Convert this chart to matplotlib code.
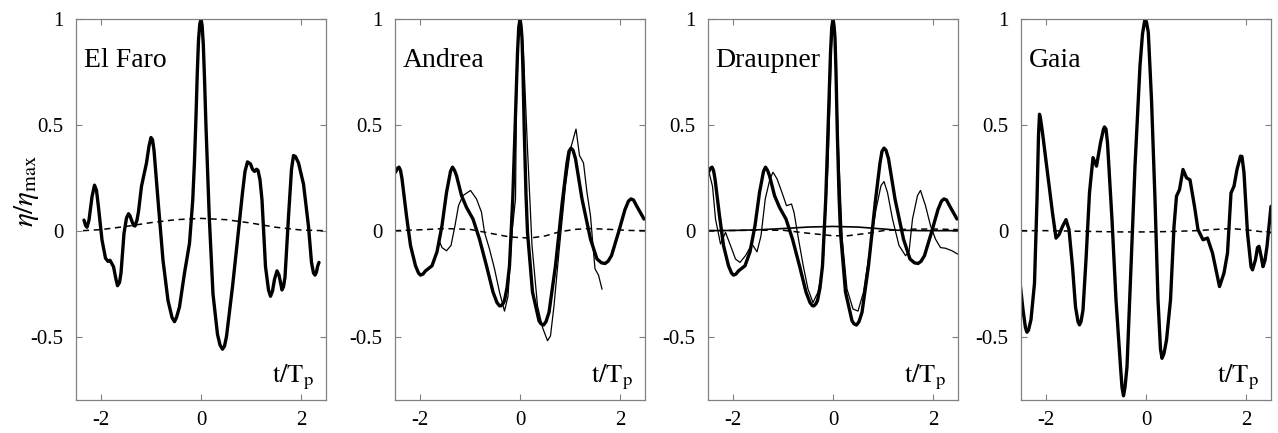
import matplotlib
matplotlib.use('Agg')
import matplotlib.pyplot as plt

plt.rcParams['font.family'] = ['Liberation Serif', 'DejaVu Serif']
plt.rcParams['mathtext.fontset'] = 'stix'
plt.rcParams['axes.unicode_minus'] = False

# --- El Faro ---
faro_t = [-2.34, -2.31, -2.28, -2.24, -2.18, -2.13, -2.09, -2.05, -1.98, -1.91, -1.86, -1.82, -1.75,
          -1.70, -1.67, -1.63, -1.60, -1.54, -1.49, -1.45, -1.42, -1.39, -1.35, -1.32, -1.28, -1.25,
          -1.19, -1.09, -1.04, -1.00, -0.97, -0.94, -0.86, -0.76, -0.66, -0.58, -0.53, -0.49, -0.43,
          -0.33, -0.23, -0.165, -0.13, -0.10, -0.075, -0.05, -0.025, 0.0, 0.022, 0.046, 0.07, 0.10,
          0.165, 0.24, 0.33, 0.38, 0.43, 0.47, 0.51, 0.63, 0.73, 0.83, 0.88, 0.93, 0.99, 1.03, 1.07,
          1.11, 1.14, 1.18, 1.22, 1.29, 1.35, 1.39, 1.43, 1.47, 1.52, 1.56, 1.62, 1.65, 1.68, 1.75,
          1.81, 1.85, 1.89, 1.95, 2.05, 2.15, 2.21, 2.25, 2.28, 2.31, 2.33, 2.36]
faro_y = [0.05, 0.025, 0.016, 0.05, 0.16, 0.215, 0.19, 0.11, -0.044, -0.13, -0.145, -0.14, -0.17,
          -0.23, -0.26, -0.245, -0.20, -0.013, 0.06, 0.08, 0.07, 0.05, 0.025, 0.022, 0.05, 0.09,
          0.21, 0.32, 0.40, 0.44, 0.43, 0.38, 0.145, -0.14, -0.33, -0.41, -0.43, -0.41, -0.36,
          -0.20, -0.06, 0.145, 0.33, 0.54, 0.74, 0.90, 0.975, 1.0, 0.97, 0.88, 0.72, 0.49,
          0.066, -0.30, -0.49, -0.54, -0.56, -0.545, -0.50, -0.265, -0.044, 0.18, 0.28, 0.325, 0.315, 0.29, 0.28,
          0.29, 0.285, 0.24, 0.145, -0.17, -0.28, -0.31, -0.285, -0.23, -0.19, -0.21, -0.28, -0.265, -0.22, 0.066,
          0.29, 0.355, 0.35, 0.32, 0.22, 0.02, -0.15, -0.20, -0.21, -0.195, -0.17, -0.15]
faro_dash_t = [-2.36, -2.0, -1.5, -1.0, -0.5, 0.0, 0.5, 1.0, 1.5, 2.0, 2.44]
faro_dash_y = [0.0, 0.005, 0.02, 0.038, 0.052, 0.058, 0.052, 0.036, 0.016, 0.003, 0.0]

# --- Andrea / Draupner model wave (same thick curve in both panels) ---
model_t = [-2.49, -2.45, -2.42, -2.39, -2.36, -2.27, -2.19, -2.09, -2.03, -1.99, -1.94, -1.89, -1.76,
           -1.66, -1.56, -1.47, -1.39, -1.35, -1.31, -1.27, -1.17, -1.07, -0.94, -0.81, -0.67, -0.54,
           -0.46, -0.41, -0.38, -0.34, -0.31, -0.26, -0.21, -0.145, -0.11, -0.08, -0.05, -0.025, 0.0,
           0.02, 0.04, 0.06, 0.086, 0.12, 0.15, 0.25, 0.38, 0.42, 0.47, 0.52, 0.58, 0.71, 0.845, 0.94,
           0.98, 1.02, 1.06, 1.11, 1.24, 1.41, 1.54, 1.63, 1.70, 1.76, 1.83, 1.97, 2.10, 2.17, 2.22,
           2.27, 2.33, 2.48]
model_y = [0.276, 0.295, 0.30, 0.285, 0.245, 0.07, -0.07, -0.166, -0.2, -0.21, -0.205, -0.19, -0.166,
           -0.10, 0.024, 0.18, 0.28, 0.30, 0.285, 0.26, 0.166, 0.11, 0.055, -0.04, -0.166, -0.29,
           -0.34, -0.355, -0.355, -0.345, -0.33, -0.27, -0.166, 0.15, 0.40, 0.62, 0.84, 0.96, 1.0,
           0.97, 0.91, 0.75, 0.465, 0.17, -0.008, -0.29, -0.426, -0.44, -0.446, -0.43, -0.386, -0.166, 0.134, 0.32,
           0.375, 0.39, 0.38, 0.34, 0.15, -0.04, -0.134, -0.152, -0.155, -0.145, -0.118, -0.008, 0.10, 0.14, 0.15,
           0.145, 0.118, 0.055]

andrea_t = [-1.63, -1.56, -1.47, -1.38, -1.30, -1.23, -1.14, -0.99, -0.87, -0.77, -0.71, -0.61, -0.51,
            -0.41, -0.31, -0.24, -0.16, -0.09, -0.07, -0.026, 0.013, 0.066, 0.15, 0.24, 0.35, 0.45, 0.55,
            0.61, 0.68, 0.78, 0.91, 1.01, 1.12, 1.19, 1.27, 1.34, 1.41, 1.47, 1.50, 1.57, 1.64]
andrea_y = [-0.04, -0.08, -0.095, -0.07, 0.024, 0.118, 0.166, 0.19, 0.15, 0.087, -0.008, -0.087, -0.18,
            -0.29, -0.38, -0.31, -0.008, 0.15, 0.62, 0.97, 0.985, 0.86, 0.386, -0.07, -0.355, -0.457, -0.52,
            -0.497, -0.355, -0.10, 0.213, 0.386, 0.48, 0.355, 0.32, 0.18, 0.07, -0.10, -0.18, -0.21, -0.276]
andrea_dash_t = [-2.5, -2.0, -1.5, -1.0, -0.6, -0.2, 0.2, 0.5, 0.8, 1.1, 1.4, 1.8, 2.2, 2.5]
andrea_dash_y = [0.0, 0.004, 0.01, 0.006, -0.012, -0.03, -0.035, -0.025, -0.005, 0.006, 0.01, 0.006, 0.001, 0.0]

draupner_t = [-2.48, -2.41, -2.35, -2.25, -2.15, -2.05, -1.95, -1.86, -1.75, -1.62, -1.52, -1.44, -1.355,
              -1.26, -1.20, -1.12, -1.02, -0.93, -0.83, -0.78, -0.69, -0.595, -0.50, -0.40, -0.30, -0.20,
              -0.10, -0.06, -0.033, 0.0, 0.025, 0.046, 0.11, 0.185, 0.28, 0.40, 0.50, 0.61, 0.73, 0.86,
              0.96, 1.02, 1.09, 1.19, 1.32, 1.45, 1.52, 1.59, 1.69, 1.75, 1.85, 1.95, 2.05, 2.15, 2.25,
              2.38, 2.49]
draupner_y = [0.276, 0.21, 0.055, -0.063, -0.008, -0.07, -0.134, -0.15, -0.118, -0.063, -0.10, -0.024, 0.15,
              0.245, 0.276, 0.245, 0.18, 0.118, 0.126, 0.087, -0.04, -0.166, -0.276, -0.34, -0.29, -0.166,
              0.31, 0.62, 0.86, 0.985, 0.94, 0.86, 0.386, -0.04, -0.276, -0.37, -0.38, -0.29, -0.10, 0.10,
              0.213, 0.232, 0.18, 0.055, -0.07, -0.118, -0.10, 0.055, 0.166, 0.19, 0.118, 0.024, -0.04, -0.08, -0.083,
              -0.095, -0.11]
draupner_flat_t = [-2.5, -2.0, -1.5, -1.0, -0.5, 0.0, 0.5, 1.0, 1.3, 1.8, 2.5]
draupner_flat_y = [0.0, 0.001, 0.004, 0.01, 0.017, 0.02, 0.017, 0.008, 0.002, 0.0, 0.0]
draupner_dash_t = [-2.5, -2.0, -1.5, -1.0, -0.5, 0.0, 0.3, 0.7, 1.0, 1.5, 2.0, 2.5]
draupner_dash_y = [0.0, 0.001, 0.002, 0.002, -0.012, -0.024, -0.024, -0.012, 0.0, 0.007, 0.008, 0.005]

# --- Gaia ---
gaia_t = [-2.51, -2.46, -2.41, -2.38, -2.35, -2.30, -2.23, -2.18, -2.15, -2.13, -2.11, -2.07, -1.97,
          -1.87, -1.80, -1.74, -1.67, -1.60, -1.54, -1.47, -1.41, -1.36, -1.33, -1.30, -1.26, -1.20,
          -1.13, -1.06, -0.99, -0.91, -0.85, -0.83, -0.80, -0.77, -0.68, -0.60, -0.51, -0.48, -0.45,
          -0.42, -0.38, -0.30, -0.22, -0.12, -0.07, -0.02, 0.01, 0.046, 0.11, 0.18, 0.24, 0.29, 0.32,
          0.36, 0.41, 0.49, 0.56, 0.61, 0.67, 0.74, 0.81, 0.88, 0.97, 1.04, 1.14, 1.23, 1.33, 1.47,
          1.56, 1.63, 1.70, 1.76, 1.82, 1.89, 1.92, 1.96, 2.03, 2.10, 2.13, 2.19, 2.23, 2.26, 2.31, 2.34,
          2.38, 2.42, 2.50]
gaia_y = [-0.264, -0.374, -0.46, -0.48, -0.47, -0.42, -0.248, 0.147, 0.45, 0.55, 0.53, 0.463, 0.273,
          0.084, -0.035, -0.019, 0.02, 0.052, 0.005, -0.17, -0.36, -0.43, -0.445, -0.43, -0.375, -0.137,
          0.18, 0.345, 0.305, 0.415, 0.48, 0.49, 0.48, 0.415, 0.052, -0.327, -0.643, -0.74, -0.78,
          -0.74, -0.643, -0.17, 0.305, 0.78, 0.93, 1.0, 0.985, 0.937, 0.62, 0.147, -0.327, -0.56, -0.603,
          -0.58, -0.517, -0.327, 0.02, 0.163, 0.194, 0.289, 0.25, 0.24, 0.115, 0.005, -0.043, -0.035, -0.106, -0.264,
          -0.2, -0.106, 0.178, 0.21, 0.289, 0.352, 0.35, 0.273, -0.011, -0.17, -0.185, -0.137, -0.08, -0.074, -0.13, -0.17,
          -0.14, -0.074, 0.115]
gaia_dash_t = [-2.5, -2.0, -1.5, -1.0, -0.5, 0.0, 0.5, 1.0, 1.4, 1.7, 2.0, 2.5]
gaia_dash_y = [0.0, 0.0, -0.002, -0.004, -0.006, -0.006, -0.004, 0.0, 0.006, 0.01, 0.004, -0.01]

names = ['El Faro', 'Andrea', 'Draupner', 'Gaia']
lefts = [76, 395, 708, 1021]

W, H = 1278, 433
fig = plt.figure(figsize=(W / 100, H / 100), dpi=100)

axes = []
for left in lefts:
    ax = fig.add_axes([left / W, 33 / H, 250 / W, 381 / H])
    axes.append(ax)

thick = dict(color='black', lw=2.4, solid_joinstyle='round', solid_capstyle='round')
thin = dict(color='black', lw=0.9, solid_joinstyle='round')
dashed = dict(color='black', lw=1.1, ls=(0, (4, 3)))

ax = axes[0]
ax.plot(faro_t, faro_y, **thick)
ax.plot(faro_dash_t, faro_dash_y, **dashed)

ax = axes[1]
ax.plot(andrea_t, andrea_y, **thin)
ax.plot(model_t, model_y, **thick)
ax.plot(andrea_dash_t, andrea_dash_y, **dashed)

ax = axes[2]
ax.plot(draupner_t, draupner_y, **thin)
ax.plot(model_t, model_y, **thick)
ax.plot(draupner_flat_t, draupner_flat_y, color='black', lw=1.2)
ax.plot(draupner_dash_t, draupner_dash_y, **dashed)

ax = axes[3]
ax.plot(gaia_t, gaia_y, **thick)
ax.plot(gaia_dash_t, gaia_dash_y, **dashed)

for ax, name in zip(axes, names):
    ax.set_xlim(-2.5, 2.5)
    ax.set_ylim(-0.8, 1.0)
    ax.set_xticks([-2, 0, 2])
    ax.set_xticklabels(['-2', '0', '2'])
    ax.set_yticks([-0.5, 0, 0.5, 1])
    ax.set_yticklabels(['-0.5', '0', '0.5', '1'])
    ax.tick_params(direction='in', top=True, right=True, length=4, width=0.8,
                   color='#808080', labelsize=15)
    ax.tick_params(axis='y', pad=9)
    ax.tick_params(axis='x', pad=8)
    for sp in ax.spines.values():
        sp.set_color('#808080')
        sp.set_linewidth(0.9)
    ax.text(0.03, 0.89, name, transform=ax.transAxes, fontsize=20, ha='left', va='center')
    ax.text(0.95, 0.06, r'$\mathrm{t/T_p}$', transform=ax.transAxes, fontsize=19,
            ha='right', va='center')

axes[0].set_ylabel(r'$\eta/\eta_{\mathrm{max}}$', fontsize=21)
axes[0].yaxis.set_label_coords(-0.14, 0.55)

fig.savefig('out.png', dpi=100)
